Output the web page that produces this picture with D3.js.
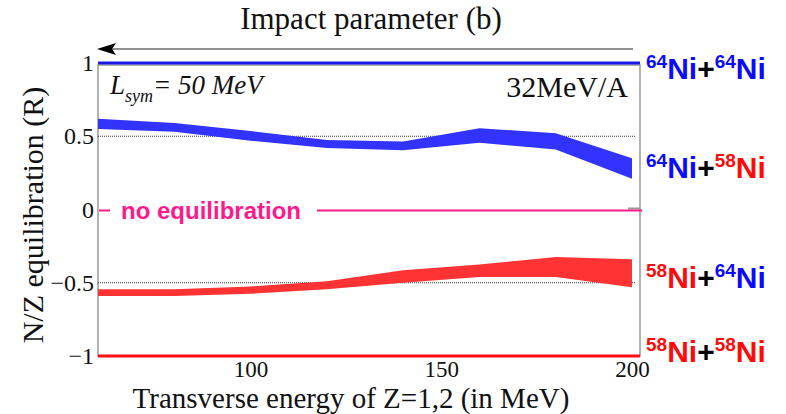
<!DOCTYPE html>
<meta charset="utf-8">
<style>
body { margin: 0; background: #fff; }
.serif { font-family: "Liberation Serif", "DejaVu Serif", serif; fill: #111; }
.nuc { font-family: "Liberation Sans", Arial, sans-serif; font-weight: bold; font-size: 30px; }
</style>
<svg width="786" height="414"></svg>
<script src="https://d3js.org/d3.v7.min.js"></script>
<script>

// transverse energy (MeV) of the band nodes
var energies = [60, 80, 100, 120, 140, 160, 180, 200];
// 64Ni+58Ni band (blue)
var blueHi = [0.62, 0.59, 0.535, 0.475, 0.465, 0.555, 0.52, 0.35];
var blueLo = [0.55, 0.53, 0.47, 0.42, 0.405, 0.455, 0.41, 0.21];
// 58Ni+64Ni band (red)
var redHi = [-0.545, -0.545, -0.525, -0.49, -0.415, -0.375, -0.325, -0.34];
var redLo = [-0.59, -0.59, -0.575, -0.545, -0.5, -0.46, -0.46, -0.53];

var xTicks = [100, 150, 200];
var yTicks = [1, 0.5, 0, -0.5, -1];
var refLines = [-0.5, 0.5];

var serifFont = "'Liberation Serif', 'DejaVu Serif', serif";

var svg = d3.select("svg");

var x = d3.scaleLinear().domain([60, 200]).range([98, 632]);
var y = d3.scaleLinear().domain([-1, 1]).range([356, 63]);

// box
svg.append("rect")
    .attr("x", 98).attr("y", 65)
    .attr("width", 542).attr("height", 291)
    .attr("fill", "none")
    .attr("stroke", "#999")
    .attr("stroke-width", 1.5);

// dotted reference lines
svg.selectAll(".ref")
    .data(refLines)
    .enter().append("line")
      .attr("x1", x(60)).attr("x2", x(200) + 3)
      .attr("y1", function(d) { return y(d); })
      .attr("y2", function(d) { return y(d); })
      .attr("stroke", "#000")
      .attr("stroke-width", 0.8)
      .attr("stroke-dasharray", "1,1");

var area = d3.area()
    .x(function(d) { return x(d.e); })
    .y0(function(d) { return y(d.lo); })
    .y1(function(d) { return y(d.hi); });

var blue = energies.map(function(e, i) { return {e: e, lo: blueLo[i], hi: blueHi[i]}; });
var red = energies.map(function(e, i) { return {e: e, lo: redLo[i], hi: redHi[i]}; });

svg.append("path").datum(blue).attr("d", area).attr("fill", "#3333ff");
svg.append("path").datum(red).attr("d", area).attr("fill", "#ff3333");

// limits
svg.append("line")
    .attr("x1", 98).attr("x2", 640)
    .attr("y1", y(1)).attr("y2", y(1))
    .attr("stroke", "#1a1ae6").attr("stroke-width", 3);
svg.append("line")
    .attr("x1", 98).attr("x2", 640)
    .attr("y1", y(-1)).attr("y2", y(-1))
    .attr("stroke", "#ff1010").attr("stroke-width", 3);

// no equilibration line
var pink = "#ff1a8c";
svg.append("line")
    .attr("x1", 628).attr("x2", 640)
    .attr("y1", y(0) - 1).attr("y2", y(0) - 1)
    .attr("stroke", "#999").attr("stroke-width", 2);
svg.append("line")
    .attr("x1", 99).attr("x2", 110)
    .attr("y1", y(0) + 1).attr("y2", y(0) + 1)
    .attr("stroke", pink).attr("stroke-width", 2);
svg.append("line")
    .attr("x1", 317).attr("x2", 642)
    .attr("y1", y(0) + 1).attr("y2", y(0) + 1)
    .attr("stroke", pink).attr("stroke-width", 2);
svg.append("text")
    .attr("x", 121).attr("y", y(0) + 9)
    .attr("fill", pink)
    .style("font-family", "'Liberation Sans', Arial, sans-serif")
    .style("font-weight", "bold")
    .style("font-size", "24px")
    .text("no equilibration");

// axes
var yAxis = svg.append("g")
    .attr("transform", "translate(95,0)")
    .attr("font-family", serifFont)
    .call(d3.axisLeft(y).tickValues(yTicks).tickSize(0)
      .tickFormat(function(d) { return d === 0 ? "0" : (d < 0 ? "\u2212" : "") + Math.abs(d); }));
yAxis.attr("font-family", serifFont).attr("font-size", 24);
yAxis.select(".domain").remove();
yAxis.selectAll("text")
    .attr("dx", 2)
    .attr("fill", "#111");

var xAxis = svg.append("g")
    .attr("transform", "translate(0,377)")
    .call(d3.axisBottom(x).tickValues(xTicks).tickSize(0));
xAxis.attr("font-family", serifFont).attr("font-size", 23);
xAxis.select(".domain").remove();
xAxis.selectAll("text")
    .attr("y", 0).attr("dy", 0)
    .attr("fill", "#111");

// titles
svg.append("text").attr("class", "serif")
    .attr("x", 371).attr("y", 29)
    .attr("text-anchor", "middle")
    .style("font-size", "31px")
    .text("Impact parameter (b)");

svg.append("line")
    .attr("x1", 112).attr("x2", 633)
    .attr("y1", 49).attr("y2", 49)
    .attr("stroke", "#222").attr("stroke-width", 1);
svg.append("path")
    .attr("d", "M97,49 L116,43 L112,49 L116,55 Z")
    .attr("fill", "#000");

svg.append("text").attr("class", "serif")
    .attr("x", 351).attr("y", 408)
    .attr("text-anchor", "middle")
    .style("font-size", "29px")
    .text("Transverse energy of Z=1,2 (in MeV)");

svg.append("text").attr("class", "serif")
    .attr("transform", "translate(43,215) rotate(-90)")
    .attr("text-anchor", "middle")
    .style("font-size", "30px")
    .text("N/Z equilibration (R)");

var ls = svg.append("text").attr("class", "serif")
    .attr("x", 110).attr("y", 94)
    .style("font-size", "27px")
    .style("font-style", "italic");
ls.append("tspan").text("L");
ls.append("tspan").attr("dy", 8).style("font-size", "18px").text("sym");
ls.append("tspan").attr("dy", -8).text("= 50 MeV");

svg.append("text").attr("class", "serif")
    .attr("x", 628).attr("y", 97)
    .attr("text-anchor", "end")
    .style("font-size", "30px")
    .text("32MeV/A");

// reaction labels
var blueC = "#0a0aff", redC = "#ff0a0a";
var labels = [
  {y: 79, a: "64", ca: blueC, b: "64", cb: blueC},
  {y: 178, a: "64", ca: blueC, b: "58", cb: redC},
  {y: 288, a: "58", ca: redC, b: "64", cb: blueC},
  {y: 362, a: "58", ca: redC, b: "58", cb: redC}
];
labels.forEach(function(l) {
  var t = svg.append("text").attr("class", "nuc").attr("x", 646).attr("y", l.y);
  t.append("tspan").attr("dy", -11).style("font-size", "19px").attr("fill", l.ca).text(l.a);
  t.append("tspan").attr("dy", 11).attr("fill", l.ca).text("Ni");
  t.append("tspan").attr("fill", "#000").text("+");
  t.append("tspan").attr("dy", -11).style("font-size", "19px").attr("fill", l.cb).text(l.b);
  t.append("tspan").attr("dy", 11).attr("fill", l.cb).text("Ni");
});

</script>
